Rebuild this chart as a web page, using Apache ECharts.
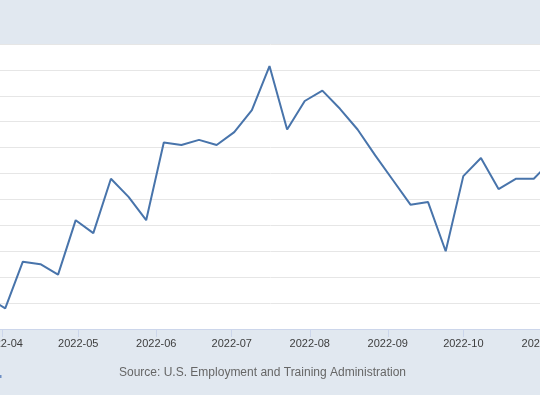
<!DOCTYPE html>
<html>
<head>
<meta charset="utf-8">
<script src="https://cdn.jsdelivr.net/npm/echarts@6/dist/echarts.min.js"></script>
<style>html,body{margin:0;padding:0;background:#e1e8f0;}#c{width:540px;height:395px;}</style>
</head>
<body>
<div id="c"></div>
<script>
// Weekly initial claims (week ending)
const weeks = ['2022-03-26','2022-04-02','2022-04-09','2022-04-16','2022-04-23','2022-04-30',
  '2022-05-07','2022-05-14','2022-05-21','2022-05-28','2022-06-04','2022-06-11','2022-06-18',
  '2022-06-25','2022-07-02','2022-07-09','2022-07-16','2022-07-23','2022-07-30','2022-08-06',
  '2022-08-13','2022-08-20','2022-08-27','2022-09-03','2022-09-10','2022-09-17','2022-09-24',
  '2022-10-01','2022-10-08','2022-10-15','2022-10-22','2022-10-29','2022-11-05'];
const claims = [172000,168000,186000,185000,181000,202000,
  197000,218000,211000,202000,232000,231000,233000,
  231000,236000,244500,261500,237000,248000,252000,
  245000,237000,227000,217500,208000,209000,190000,
  219000,226000,214000,218000,218000,225000];
const yTicks = [160000,170000,180000,190000,200000,210000,220000,230000,240000,250000,260000,270000];
const sourceText = 'Source: U.S. Employment and Training Administration';

const DAY = 86400000;
const PX_PER_DAY = 2.517;
const apr1 = new Date(2022,3,1).getTime();
const xMin = apr1 - (2.7/PX_PER_DAY)*DAY;
const xMax = apr1 + ((560-2.7)/PX_PER_DAY)*DAY;

const chart = echarts.init(document.getElementById('c'), null, {renderer:'canvas'});
chart.setOption({
  backgroundColor: '#e1e8f0',
  animation: false,
  grid: {left:0, right:-20, top:44, bottom:66, show:true, backgroundColor:'#ffffff', borderWidth:0,
    containLabel:false, outerBoundsMode:'none'},
  xAxis: {
    type:'time', min:xMin, max:xMax,
    minInterval: 28*DAY, maxInterval: 31*DAY,
    axisLine:{show:true, lineStyle:{color:'#ccd6eb', width:1}},
    axisTick:{show:true, length:8, lineStyle:{color:'#ccd6eb'}},
    axisLabel:{show:true, color:'#3d3d3d', fontSize:11, fontFamily:'Liberation Sans, Arial, sans-serif', margin:9,
      showMinLabel:false, showMaxLabel:false, hideOverlap:false,
      formatter: function(v){ const d=new Date(v); return d.getFullYear()+'-'+String(d.getMonth()+1).padStart(2,'0'); }},
    splitLine:{show:false}
  },
  yAxis: {
    type:'value', min:yTicks[0], max:yTicks[yTicks.length-1], interval:yTicks[1]-yTicks[0],
    axisLabel:{show:false}, axisLine:{show:false}, axisTick:{show:false},
    splitLine:{show:true, lineStyle:{color:'#e6e6e6', width:1}}
  },
  series: [{
    type:'line', data: weeks.map((w,i)=>[w, claims[i]]),
    showSymbol:false, symbol:'none', clip:true,
    lineStyle:{color:'#4874ab', width:2}, itemStyle:{color:'#4874ab'}
  }],
  graphic: [
    {type:'text', left:119, top:367, style:{text:sourceText, fill:'#666', fontSize:12, fontFamily:'Liberation Sans, Arial, sans-serif'}},
    {type:'rect', shape:{x:0, y:375, width:1.5, height:3}, style:{fill:'#6f8fc4'}}
  ]
});
</script>
</body>
</html>
